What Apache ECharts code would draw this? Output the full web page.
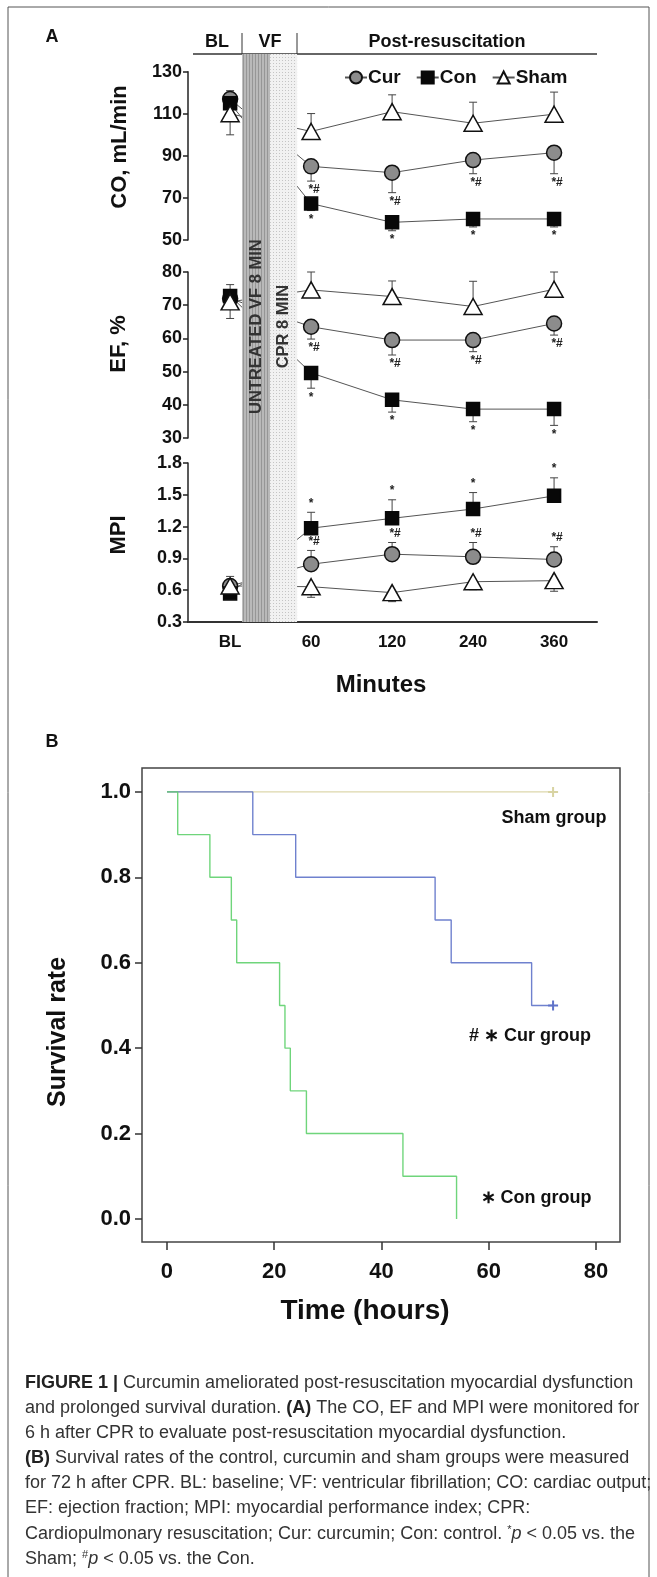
<!DOCTYPE html>
<html>
<head>
<meta charset="utf-8">
<script src="https://cdn.jsdelivr.net/npm/echarts@6/dist/echarts.min.js"></script>
<style>
  html, body { margin: 0; padding: 0; background: #fff; }
  #chart { width: 657px; height: 1577px; }
</style>
</head>
<body>
<div id="chart"></div>
<script>
// ---- panel A: time points ----
const xLabels = ['BL', '60', '120', '240', '360']
const xPos = [0, 1, 2, 3, 4]
// VF / CPR bands, in units of the BL -> 60 gap
const bandEdges = [0.148, 0.494, 0.827]
const bandTexts = ['UNTREATED VF 8 MIN', 'CPR 8 MIN']

// cardiac output (mL/min); signed error: + bar up, - bar down
const coCur = [117, 85, 82, 88, 91.5]
const coCurErr = [4, -7, -9.5, -6.5, -10]
const coCon = [115, 67.3, 58.4, 60, 60]
const coConErr = [0, -3.3, -4, -3.8, -3.8]
const coSham = [110, 101.6, 111, 105.5, 109.8]
const coShamErr = [-10, 8.5, 8, 10, 10.5]
const coTicks = [50, 70, 90, 110, 130]

// ejection fraction (%)
const efCur = [72, 63.5, 59.5, 59.5, 64.5]
const efCurErr = [0, -3.7, -4.5, -3.5, -3.5]
const efCon = [72.8, 49.6, 41.5, 38.7, 38.7]
const efConErr = [3.4, -4.6, -3.7, -3.8, -4.9]
const efSham = [71, 74.6, 72.6, 69.6, 74.8]
const efShamErr = [-5, 5.4, 4.7, 7.6, 5.2]
const efTicks = [30, 40, 50, 60, 70, 80]

// myocardial performance index
const mpiCur = [0.64, 0.845, 0.94, 0.915, 0.89]
const mpiCurErr = [0, 0.13, 0.11, 0.135, 0.12]
const mpiCon = [0.57, 1.185, 1.278, 1.366, 1.49]
const mpiConErr = [0, 0.15, 0.175, 0.155, 0.17]
const mpiSham = [0.64, 0.633, 0.577, 0.68, 0.69]
const mpiShamErr = [0.09, -0.1, -0.085, -0.075, -0.1]
const mpiTicks = [0.3, 0.6, 0.9, 1.2, 1.5, 1.8]

const curSig = ['', '*#', '*#', '*#', '*#']
const conSig = ['', '*', '*', '*', '*']
const shamSig = ['', '', '', '', '']

// ---- panel B: Kaplan-Meier ----
const shamT = [0, 72]
const shamS = [1, 1]
const curT = [0, 16, 24, 50, 53, 68, 72]
const curS = [1, 0.9, 0.8, 0.7, 0.6, 0.5, 0.5]
const conT = [0, 2, 8, 12, 13, 21, 22, 23, 26, 44, 54]
const conS = [1, 0.9, 0.8, 0.7, 0.6, 0.5, 0.4, 0.3, 0.2, 0.1, 0]
const hourTicks = [0, 20, 40, 60, 80]
const rateTicks = [0, 0.2, 0.4, 0.6, 0.8, 1.0]

const FONT = "'Liberation Sans', Arial, Helvetica, sans-serif"
const X_MIN = -0.52
const X_MAX = 4.53
const CROSS = 'path://M4,0H6V4H10V6H6V10H4V6H0V4H4Z'

const groupStyle = {
  Cur: { symbol: 'circle', size: 15, fill: '#8c8c8c', border: '#111' },
  Con: { symbol: 'rect', size: 13, fill: '#080808', border: '#080808' },
  Sham: { symbol: 'triangle', size: [18, 16], fill: '#ffffff', border: '#111' },
}

function bandPattern(bg, fg, dots) {
  const c = document.createElement('canvas')
  c.width = 3
  c.height = 3
  const ctx = c.getContext('2d')
  ctx.fillStyle = bg
  ctx.fillRect(0, 0, 3, 3)
  ctx.fillStyle = fg
  if (dots)
    ctx.fillRect(0, 0, 1, 1)
  else
    ctx.fillRect(0, 0, 1, 3)
  return { image: c, repeat: 'repeat' }
}

function hiddenX(i) {
  return { gridIndex: i, type: 'value', min: X_MIN, max: X_MAX, show: false }
}

function yAxisA(i, ticks, fmt) {
  return {
    gridIndex: i,
    type: 'value',
    min: ticks[0],
    max: ticks[ticks.length - 1],
    axisLine: { show: true, onZero: false, lineStyle: { color: '#222', width: 1.5 } },
    axisTick: { show: true, length: 5, customValues: ticks, lineStyle: { color: '#222', width: 1.5 } },
    axisLabel: { customValues: ticks, formatter: fmt, color: '#111', fontFamily: FONT, fontWeight: 'bold', fontSize: 18, margin: 6 },
    splitLine: { show: false },
  }
}

function groupLine(gi, name, vals) {
  const st = groupStyle[name]
  return {
    type: 'line',
    name,
    xAxisIndex: gi,
    yAxisIndex: gi,
    data: xPos.map((x, i) => [x, vals[i]]),
    symbol: st.symbol,
    symbolSize: st.size,
    itemStyle: { color: st.fill, borderColor: st.border, borderWidth: 1.5 },
    lineStyle: { color: '#555', width: 1 },
    z: 3,
    silent: true,
  }
}

function errorBars(gi, vals, errs, sig) {
  return {
    type: 'custom',
    xAxisIndex: gi,
    yAxisIndex: gi,
    z: 2,
    silent: true,
    data: xPos.map((x, i) => [x, vals[i], errs[i]]),
    renderItem(params, api) {
      const err = api.value(2)
      if (!err)
        return null
      const p0 = api.coord([api.value(0), api.value(1)])
      const p1 = api.coord([api.value(0), api.value(1) + err])
      const dir = err > 0 ? -1 : 1
      const children = [
        { type: 'line', shape: { x1: p0[0], y1: p0[1], x2: p1[0], y2: p1[1] }, style: { stroke: '#444', lineWidth: 1 } },
        { type: 'line', shape: { x1: p1[0] - 4, y1: p1[1], x2: p1[0] + 4, y2: p1[1] }, style: { stroke: '#444', lineWidth: 1 } },
      ]
      const s = sig[params.dataIndex]
      if (s) {
        children.push({
          type: 'text',
          x: p1[0] + (s.length > 1 ? 3 : 0),
          y: p1[1] + dir * 9,
          style: { text: s, fill: '#222', font: `bold 12px ${FONT}`, align: 'center', verticalAlign: 'middle' },
        })
      }
      return { type: 'group', children }
    },
  }
}

function kmSeries(name, ts, ss, color, censored) {
  return {
    type: 'line',
    name,
    xAxisIndex: 4,
    yAxisIndex: 4,
    step: 'end',
    symbol: 'none',
    data: ts.map((t, i) => (censored && i === ts.length - 1)
      ? { value: [t, ss[i]], symbol: CROSS, symbolSize: 10 }
      : [t, ss[i]]),
    itemStyle: { color },
    lineStyle: { color, width: 1.4, opacity: 0.9 },
    silent: true,
  }
}

const panels = [
  { gi: 1, cur: coCur, curErr: coCurErr, con: coCon, conErr: coConErr, sham: coSham, shamErr: coShamErr },
  { gi: 2, cur: efCur, curErr: efCurErr, con: efCon, conErr: efConErr, sham: efSham, shamErr: efShamErr },
  { gi: 3, cur: mpiCur, curErr: mpiCurErr, con: mpiCon, conErr: mpiConErr, sham: mpiSham, shamErr: mpiShamErr },
]

const series = []
// VF / CPR bands drawn over the connecting lines
series.push({
  type: 'custom',
  xAxisIndex: 0,
  yAxisIndex: 0,
  z: 10,
  silent: true,
  data: [[bandEdges[0], bandEdges[1], 0], [bandEdges[1], bandEdges[2], 1]],
  renderItem(params, api) {
    const k = api.value(2)
    const a = api.coord([api.value(0), 1])
    const b = api.coord([api.value(1), 0])
    const fill = k === 0 ? bandPattern('#b9b9b9', '#969696', false) : bandPattern('#f1f1f1', '#c4c4c4', true)
    const c = api.coord([(api.value(0) + api.value(1)) / 2, 0.52])
    return {
      type: 'group',
      children: [
        { type: 'rect', shape: { x: a[0], y: a[1], width: b[0] - a[0], height: b[1] - a[1] }, style: { fill } },
        {
          type: 'text',
          x: c[0],
          y: c[1],
          rotation: Math.PI / 2,
          style: { text: bandTexts[k], fill: '#333', font: `bold 16.5px ${FONT}`, align: 'center', verticalAlign: 'middle' },
        },
      ],
    }
  },
})
for (const p of panels) {
  series.push(errorBars(p.gi, p.cur, p.curErr, curSig))
  series.push(errorBars(p.gi, p.con, p.conErr, conSig))
  series.push(errorBars(p.gi, p.sham, p.shamErr, shamSig))
  series.push(groupLine(p.gi, 'Cur', p.cur))
  series.push(groupLine(p.gi, 'Con', p.con))
  series.push(groupLine(p.gi, 'Sham', p.sham))
}
series.push(kmSeries('Sham group', shamT, shamS, '#d8d3a2', true))
series.push(kmSeries('Cur group', curT, curS, '#5f73c9', true))
series.push(kmSeries('Con group', conT, conS, '#5fd06d', false))

function txt(text, x, y, size, extra) {
  return {
    type: 'text',
    x,
    y,
    rotation: (extra && extra.rotation) || 0,
    style: Object.assign({ text, fill: '#111', font: `bold ${size}px ${FONT}`, align: 'center', verticalAlign: 'middle' }, (extra && extra.style) || {}),
  }
}
function hline(x1, y1, x2, y2, w) {
  return { type: 'line', shape: { x1, y1, x2, y2 }, style: { stroke: '#333', lineWidth: w || 1.5 } }
}

const captionLines = [
  '{b|FIGURE 1 |} Curcumin ameliorated post-resuscitation myocardial dysfunction',
  'and prolonged survival duration. {b|(A)} The CO, EF and MPI were monitored for',
  '6 h after CPR to evaluate post-resuscitation myocardial dysfunction.',
  '{b|(B)} Survival rates of the control, curcumin and sham groups were measured',
  'for 72 h after CPR. BL: baseline; VF: ventricular fibrillation; CO: cardiac output;',
  'EF: ejection fraction; MPI: myocardial performance index; CPR:',
  'Cardiopulmonary resuscitation; Cur: curcumin; Con: control. {s|*}{i|p} < 0.05 vs. the',
  'Sham; {s|#}{i|p} < 0.05 vs. the Con.',
]
const captionRich = {
  b: { fontWeight: 'bold', fill: '#222', fontSize: 18, fontFamily: FONT },
  i: { fontStyle: 'italic', fontSize: 18, fontFamily: FONT, fill: '#333' },
  s: { fontSize: 11, fontFamily: FONT, fill: '#333', verticalAlign: 'top' },
}

const graphic = [
  { type: 'rect', shape: { x: 8, y: 7, width: 641, height: 1580 }, style: { fill: 'none', stroke: '#555', lineWidth: 1 } },
  txt('A', 52, 37, 18),
  txt('BL', 217, 42, 18),
  txt('VF', 270, 42, 18),
  txt('Post-resuscitation', 447, 42, 18),
  hline(193, 54, 597, 54),
  hline(242, 33, 242, 54, 1),
  hline(297, 33, 297, 54, 1),
  txt('CO, mL/min', 120, 147, 22, { rotation: Math.PI / 2 }),
  txt('EF, %', 119, 344, 22, { rotation: Math.PI / 2 }),
  txt('MPI', 119, 535, 22, { rotation: Math.PI / 2 }),
  txt('Minutes', 381, 685, 24),
  txt('B', 52, 742, 18),
  txt('Survival rate', 58, 1032, 25, { rotation: Math.PI / 2 }),
  txt('Time (hours)', 365, 1311, 28),
  txt('Sham group', 554, 818, 18),
  txt('# \u2217 Cur group', 530, 1036, 18),
  txt('\u2217 Con group', 536, 1198, 18),
]
captionLines.forEach((line, i) => {
  graphic.push({
    type: 'text',
    x: 25,
    y: 1383 + i * 25.1,
    style: { text: line, rich: captionRich, fill: '#333', fontSize: 18, fontFamily: FONT, align: 'left', verticalAlign: 'middle' },
  })
})

const chart = echarts.init(document.getElementById('chart'))
chart.setOption({
  animation: false,
  backgroundColor: '#fff',
  textStyle: { fontFamily: FONT },
  legend: {
    data: ['Cur', 'Con', 'Sham'],
    left: 339,
    top: 63,
    itemWidth: 22,
    itemHeight: 15,
    itemGap: 15,
    textStyle: { color: '#111', fontFamily: FONT, fontWeight: 'bold', fontSize: 19, padding: [0, 0, 0, -4] },
    selectedMode: false,
  },
  grid: [
    { left: 188, width: 409, top: 54, height: 568 },
    { left: 188, width: 409, top: 71.7, height: 168.3 },
    { left: 188, width: 409, top: 272, height: 166 },
    { left: 188, width: 409, top: 463, height: 159 },
    { left: 142, width: 478, top: 768, height: 474, show: true, borderColor: '#444', borderWidth: 1.5 },
  ],
  xAxis: [
    hiddenX(0),
    hiddenX(1),
    hiddenX(2),
    {
      gridIndex: 3,
      type: 'value',
      min: X_MIN,
      max: X_MAX,
      axisLine: { show: true, onZero: false, lineStyle: { color: '#333', width: 2 } },
      axisTick: { show: false },
      axisLabel: { customValues: xPos, formatter: v => xLabels[Math.round(v)], color: '#111', fontFamily: FONT, fontWeight: 'bold', fontSize: 17, margin: 12 },
      splitLine: { show: false },
    },
    {
      gridIndex: 4,
      type: 'value',
      min: -4.66,
      max: 84.48,
      axisLine: { show: false, onZero: false },
      axisTick: { show: true, length: 8, customValues: hourTicks, lineStyle: { color: '#333', width: 1.5 } },
      axisLabel: { customValues: hourTicks, color: '#111', fontFamily: FONT, fontWeight: 'bold', fontSize: 22, margin: 19 },
      splitLine: { show: false },
    },
  ],
  yAxis: [
    { gridIndex: 0, type: 'value', min: 0, max: 1, show: false },
    yAxisA(1, coTicks, v => String(v)),
    yAxisA(2, efTicks, v => String(v)),
    yAxisA(3, mpiTicks, v => v.toFixed(1)),
    {
      gridIndex: 4,
      type: 'value',
      min: -0.054,
      max: 1.056,
      axisLine: { show: false, onZero: false },
      axisTick: { show: true, length: 7, customValues: rateTicks, lineStyle: { color: '#333', width: 1.5 } },
      axisLabel: { customValues: rateTicks, formatter: v => v.toFixed(1), color: '#111', fontFamily: FONT, fontWeight: 'bold', fontSize: 22, margin: 11 },
      splitLine: { show: false },
    },
  ],
  series,
  graphic,
})
</script>
</body>
</html>
